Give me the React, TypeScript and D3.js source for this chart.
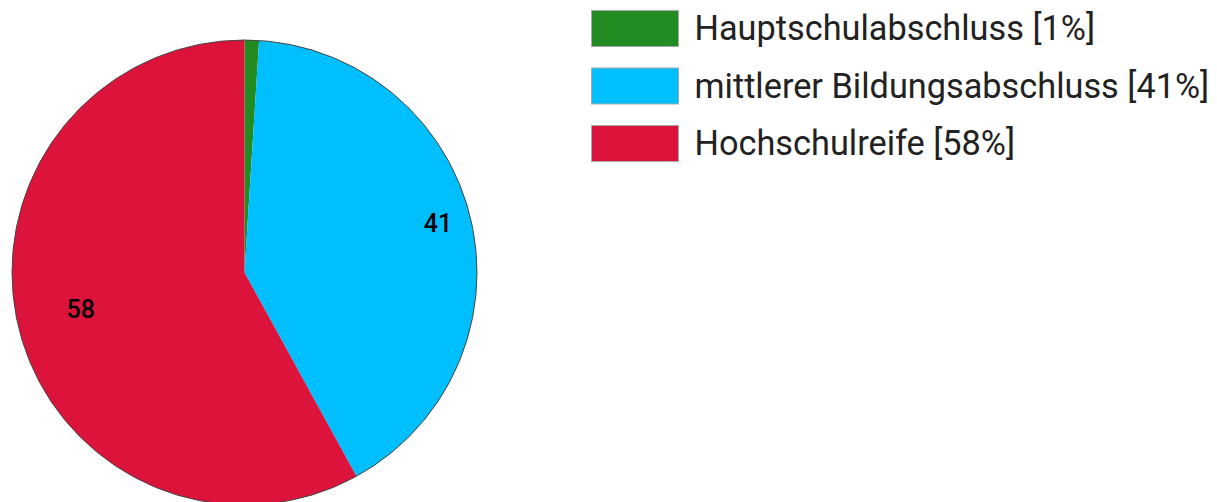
import * as d3 from "d3";

const categories = ["Hauptschulabschluss", "mittlerer Bildungsabschluss", "Hochschulreife"];
const values = [1, 41, 58];
const colors = ["#228B22", "#00BFFF", "#DC143C"];

const WIDTH = 1217;
const HEIGHT = 502;
const CX = 244.5;
const CY = 272.5;
const RADIUS = 232.5;
const LABEL_R = RADIUS * 0.79;
const LEGEND_X = 591;
const LEGEND_Y = 10;
const LEGEND_STEP = 57.5;

export default function App() {
  const total = d3.sum(values);
  const pie = d3.pie<number>().value((d) => d).sort(null);
  const arcs = pie(values);
  const arcGen = d3.arc<d3.PieArcDatum<number>>().innerRadius(0).outerRadius(RADIUS);

  return (
    <svg
      width={WIDTH}
      height={HEIGHT}
      style={{ position: "absolute", left: 0, top: 0, fontFamily: "Roboto, sans-serif" }}
    >
      <g transform={`translate(${CX}, ${CY})`}>
        {arcs.map((a, i) => (
          <path key={i} d={arcGen(a) || ""} fill={colors[i]} />
        ))}
        <circle r={RADIUS} fill="none" stroke="#444" strokeWidth={1} />
        {arcs.map((a, i) => {
          // skip labels for tiny slices
          if (a.value < 5) return null;
          const mid = (a.startAngle + a.endAngle) / 2;
          const x = Math.sin(mid) * LABEL_R;
          const y = -Math.cos(mid) * LABEL_R;
          return (
            <text key={"l" + i} x={x} y={y} fontSize={25} fontWeight={500} fill="#000" textAnchor="start">
              {a.value}
            </text>
          );
        })}
      </g>
      <g>
        {categories.map((c, i) => (
          <g key={c} transform={`translate(${LEGEND_X}, ${LEGEND_Y + i * LEGEND_STEP})`}>
            <rect x={0.5} y={0.5} width={87} height={36} fill={colors[i]} stroke="#aaa" strokeWidth={1} />
            <text x={103.5} y={30} fontSize={34.3} fill="#222">
              {`${c} [${Math.round((values[i] / total) * 100)}%]`}
            </text>
          </g>
        ))}
      </g>
    </svg>
  );
}
